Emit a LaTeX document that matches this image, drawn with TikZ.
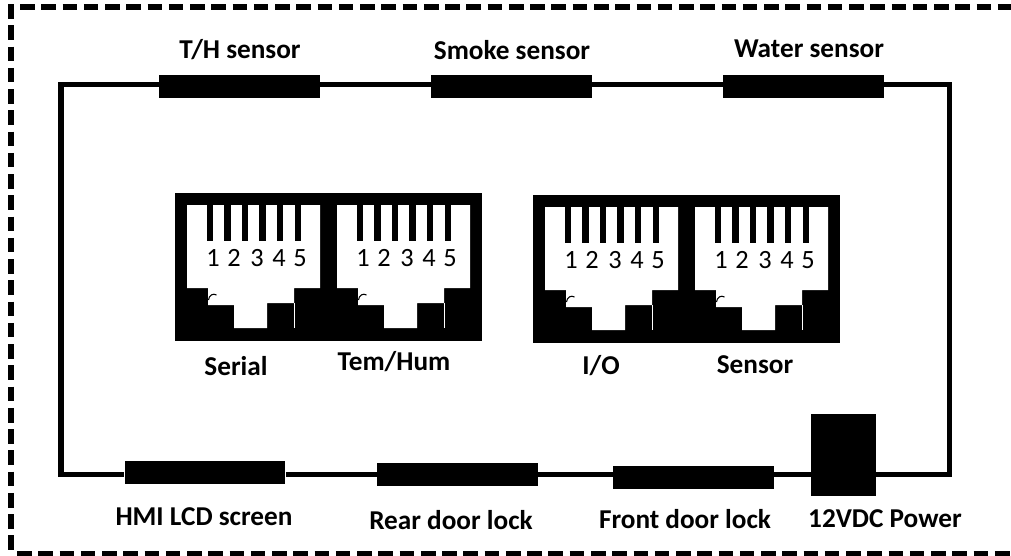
\documentclass[tikz,border=0pt]{standalone}
\usepackage{fontspec}
\setmainfont{Carlito}

\begin{document}
\begin{tikzpicture}[
    x=0.02cm, y=-0.02cm,
    frame/.style={draw, line width=2.9pt, dash pattern=on 8.3pt off 3.8pt},
    wire/.style={line width=3pt},
    part/.style={fill=black, inner sep=0pt, minimum width=3.22cm, minimum height=0.46cm},
    label/.style={font=\fontsize{15.5}{17}\selectfont\bfseries, inner sep=0pt},
    pin/.style={font=\fontsize{15}{17}\selectfont, inner sep=0pt},
    jack/.pic={
        \fill (0, 0) rectangle (157, 148);
        \fill[white] (12, 12) -- (145, 12) -- (145, 95) -- (119, 95) -- (119, 110)
            -- (92, 110) -- (92, 135) -- (59, 135) -- (59, 112) -- (33, 112)
            -- (33, 95) -- (12, 95) -- cycle;
        \draw[white, line width=0.5pt] (119, 110) -- (119, 135);
        \foreach \i in {0, ..., 5} {
            \fill (31.5 + 17.6*\i, 12) rectangle (38 + 17.6*\i, 48);
        }
        \foreach \i/\xpos in {1/38, 2/59, 3/82, 4/104, 5/125} {
            \node[pin] at (\xpos, 65) {\i};
        }
        \draw[line width=0.6pt] (41.5, 102) .. controls (38, 100) and (34, 102) .. (33.5, 107);
    },
]
    \useasboundingbox (0, 0) rectangle (1011, 555);

    % outer frame, open on the right
    \draw[frame] (11, 4) -- (11, 553);
    \draw[frame] (20, 7) -- (1011, 7);
    \draw[frame] (17, 553.5) -- (1011, 553.5);

    \coordinate (topleft) at (61, 84.5);
    \coordinate (topright) at (949.5, 84.5);
    \coordinate (botright) at (949.5, 474.5);
    \coordinate (botleft) at (61, 474.5);

    \node[part] (th) at (239.5, 86.5) {};
    \node[part] (smoke) at (511.5, 86.5) {};
    \node[part] (water) at (803.5, 86.5) {};
    \node[part] (hmi) at (205, 472.5) {};
    \node[part] (rear) at (457.5, 474.5) {};
    \node[part] (front) at (693.5, 477) {};
    \node[fill=black, inner sep=0pt, minimum width=1.3cm, minimum height=1.64cm] (power)
        at (843.5, 455) {};

    \draw[wire, line join=miter] (th.west |- topleft) -- (topleft) -- (botleft) -- (hmi.west |- botleft);
    \draw[wire] (th.east |- topleft) -- (smoke.west |- topleft);
    \draw[wire] (smoke.east |- topleft) -- (water.west |- topleft);
    \draw[wire, line join=miter] (water.east |- topleft) -- (topright) -- (botright) -- (power.east |- botright);
    \draw[wire] (hmi.east |- botleft) -- (rear.west |- botleft);
    \draw[wire] (rear.east |- botleft) -- (front.west |- botleft);
    \draw[wire] (front.east |- botleft) -- (power.west |- botleft);

    \pic (serial) at (175, 193) {jack};
    \pic (temhum) at (325, 193) {jack};
    \pic (io) at (533, 195) {jack};
    \pic (sensor) at (683, 195) {jack};

    \node[label] (thlabel) at (240, 50) {T/H sensor};
    \node[label] (smokelabel) at (512, 50) {Smoke sensor};
    \node[label] (waterlabel) at (809, 49) {Water sensor};
    \node[label] (seriallabel) at (236, 366) {Serial};
    \node[label] (temlabel) at (394, 362) {Tem/Hum};
    \node[label] (iolabel) at (601, 366) {I/O};
    \node[label] (sensorlabel) at (755, 365) {Sensor};
    \node[label] (hmilabel) at (204, 517) {HMI LCD screen};
    \node[label] (rearlabel) at (451, 520) {Rear door lock};
    \node[label] (frontlabel) at (685, 519) {Front door lock};
    \node[label] (powerlabel) at (885, 519) {12VDC Power};
\end{tikzpicture}
\end{document}
